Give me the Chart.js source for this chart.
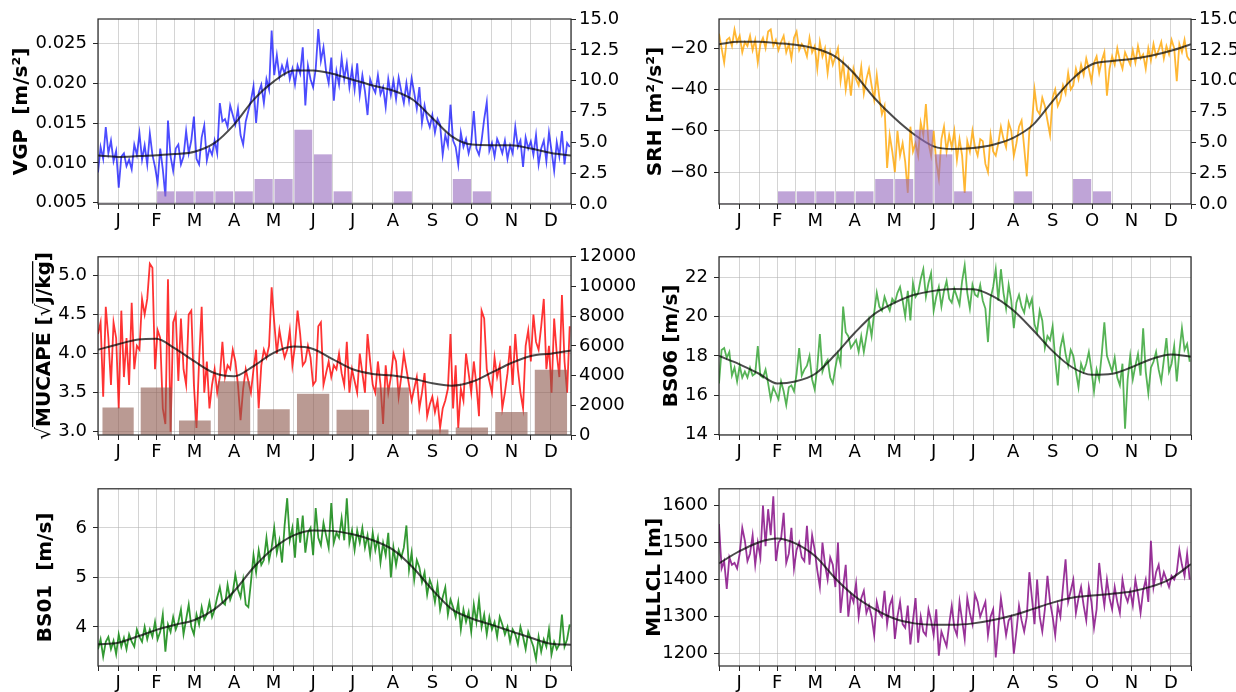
<!DOCTYPE html>
<html>
<head>
<meta charset="utf-8">
<script src="https://cdn.jsdelivr.net/npm/chart.js@4.4.1/dist/chart.umd.min.js"></script>
<style>
  html, body { margin: 0; padding: 0; background: #fff; }
  body { width: 1236px; height: 692px; position: relative; overflow: hidden; }
  canvas { position: absolute; }
</style>
</head>
<body>
<canvas id="vgp"></canvas>
<canvas id="srh"></canvas>
<canvas id="cape"></canvas>
<canvas id="bs06"></canvas>
<canvas id="bs01"></canvas>
<canvas id="lcl"></canvas>
<script>
// ---- x axis: day of year ----
const monthStarts = [0, 31, 59, 90, 120, 151, 181, 212, 243, 273, 304, 334, 365];
const monthLabels = ['J', 'F', 'M', 'A', 'M', 'J', 'J', 'A', 'S', 'O', 'N', 'D'];
const monthMids = monthLabels.map((_, i) => (monthStarts[i] + monthStarts[i + 1]) / 2);
const halfMonthEdges = [0, 15.5, 31, 45, 59, 74.5, 90, 105, 120, 135.5, 151, 166, 181,
  196.5, 212, 227.5, 243, 258, 273, 288.5, 304, 319, 334, 349.5, 365];
const halfMonthCenters = halfMonthEdges.slice(0, -1).map((e, i) => (e + halfMonthEdges[i + 1]) / 2);

const smoothDays = halfMonthEdges;

// ---- daily series (read every second day) ----
const vgpDaily = [
  0.0088,0.0120,0.0105,0.0145,0.0112,0.0128,0.0102,0.0115,0.0069,0.0108,
  0.0112,0.0096,0.0104,0.0092,0.0123,0.0110,0.0137,0.0104,0.0122,0.0098,
  0.0137,0.0110,0.0095,0.0075,0.0118,0.0092,0.0058,0.0153,0.0108,0.0090,
  0.0118,0.0123,0.0098,0.0108,0.0140,0.0112,0.0128,0.0158,0.0105,0.0098,
  0.0132,0.0147,0.0103,0.0118,0.0110,0.0128,0.0112,0.0175,0.0152,0.0155,
  0.0145,0.0172,0.0160,0.0148,0.0168,0.0135,0.0123,0.0152,0.0165,0.0178,
  0.0196,0.0150,0.0188,0.0198,0.0175,0.0205,0.0192,0.0266,0.0210,0.0235,
  0.0208,0.0222,0.0212,0.0227,0.0205,0.0218,0.0198,0.0222,0.0212,0.0245,
  0.0172,0.0222,0.0205,0.0195,0.0218,0.0268,0.0228,0.0245,0.0215,0.0200,
  0.0232,0.0178,0.0215,0.0198,0.0232,0.0205,0.0225,0.0195,0.0218,0.0192,
  0.0225,0.0185,0.0210,0.0190,0.0160,0.0205,0.0195,0.0188,0.0210,0.0186,
  0.0195,0.0170,0.0205,0.0185,0.0203,0.0180,0.0207,0.0190,0.0175,0.0200,
  0.0178,0.0206,0.0188,0.0168,0.0195,0.0150,0.0172,0.0155,0.0145,0.0160,
  0.0138,0.0155,0.0148,0.0110,0.0135,0.0122,0.0173,0.0128,0.0120,0.0098,
  0.0138,0.0120,0.0130,0.0112,0.0125,0.0165,0.0118,0.0110,0.0128,0.0155,
  0.0176,0.0115,0.0125,0.0108,0.0130,0.0122,0.0112,0.0128,0.0105,0.0122,
  0.0112,0.0145,0.0120,0.0128,0.0095,0.0132,0.0118,0.0127,0.0110,0.0135,
  0.0098,0.0118,0.0128,0.0102,0.0138,0.0115,0.0090,0.0126,0.0108,0.0140,
  0.0098,0.0125,0.0120];
const vgpSmooth = [0.01092,0.01075,0.01085,0.01095,0.01110,0.01140,0.01250,0.01480,0.01790,
  0.02020,0.02158,0.02160,0.02117,0.02042,0.01971,0.01908,0.01792,0.01563,0.01333,
  0.01229,0.01221,0.01221,0.01179,0.01125,0.01092];
const vgpCounts = [0,0,0,1,1,1,1,1,2,2,6,4,1,0,0,1,0,0,2,1,0,0,0,0];

const srhDaily = [
  -13,-20,-27,-16,-15,-19,-11,-17,-14,-22,
  -17,-19,-14,-21,-16,-27,-18,-15,-20,-12,
  -11,-19,-16,-21,-17,-14,-22,-18,-25,-15,
  -12,-21,-18,-20,-24,-15,-22,-19,-30,-17,
  -24,-20,-32,-22,-28,-24,-20,-36,-27,-40,
  -31,-43,-30,-35,-38,-29,-42,-35,-30,-38,
  -45,-33,-44,-52,-48,-78,-62,-70,-80,-60,
  -72,-66,-75,-90,-58,-70,-66,-72,-56,-62,
  -47,-66,-72,-60,-75,-83,-64,-58,-70,-62,
  -68,-60,-74,-64,-72,-90,-65,-70,-60,-68,
  -72,-64,-65,-76,-80,-62,-70,-72,-66,-58,
  -64,-68,-56,-60,-72,-66,-58,-55,-68,-82,
  -60,-56,-40,-50,-52,-44,-48,-55,-62,-44,
  -40,-48,-45,-38,-42,-32,-40,-38,-30,-35,
  -28,-33,-25,-30,-36,-27,-24,-32,-26,-22,
  -43,-30,-24,-28,-20,-26,-30,-22,-25,-28,
  -21,-27,-19,-25,-23,-30,-20,-26,-18,-24,
  -21,-17,-25,-19,-23,-16,-20,-36,-18,-22,
  -16,-24,-26];
const srhSmooth = [-18.1,-16.9,-16.9,-17.6,-18.4,-20.2,-24.1,-32.6,-44.0,-53.7,-61.8,-67.5,
  -68.8,-68.3,-66.7,-63.4,-57.0,-45.6,-35.1,-27.8,-26.2,-25.3,-23.7,-21.3,-18.1];
const srhCounts = [0,0,0,1,1,1,1,1,2,2,6,4,1,0,0,1,0,0,2,1,0,0,0,0];

const capeDaily = [
  4.25,4.40,3.45,4.60,4.20,3.60,4.40,4.20,3.30,4.55,
  3.70,4.20,3.60,4.65,3.80,4.10,4.05,4.70,4.50,4.70,
  5.15,5.10,3.80,4.30,4.20,3.30,3.10,4.95,3.00,4.40,
  4.50,3.65,4.45,3.80,3.60,4.50,4.55,3.60,3.05,3.90,
  4.60,3.50,3.90,3.30,3.60,3.80,3.50,3.70,4.15,3.70,
  3.85,3.80,4.05,3.90,3.60,3.15,3.55,3.80,3.65,3.50,
  3.80,4.05,3.30,3.85,4.05,3.95,4.10,4.85,4.40,4.00,
  4.30,4.10,3.95,4.05,4.30,3.85,4.10,4.55,4.25,3.85,
  3.90,4.10,3.95,3.60,3.65,4.35,4.40,3.60,3.75,3.90,
  3.70,3.85,3.80,4.00,3.75,3.60,4.15,3.50,3.80,3.65,
  3.50,4.00,3.75,3.50,4.25,3.90,3.60,3.50,3.90,3.60,
  3.10,3.85,3.50,3.70,4.00,3.90,3.45,3.70,4.00,3.80,
  3.60,3.40,3.55,3.70,3.30,3.50,3.75,3.20,3.35,3.45,
  3.25,3.40,3.05,3.30,3.40,3.55,4.25,3.30,3.85,3.05,
  3.55,3.40,4.00,3.75,3.50,3.90,3.60,3.20,4.55,4.45,
  3.80,3.65,3.50,3.95,3.70,3.85,3.30,3.50,3.75,4.10,
  3.60,4.25,3.80,3.50,3.30,4.10,4.30,3.90,4.50,4.15,
  4.05,4.35,4.70,3.80,4.10,3.50,4.45,4.00,3.70,4.75,
  3.90,3.50,4.35];
const capeSmooth = [4.05,4.12,4.18,4.19,4.07,3.90,3.75,3.71,3.84,4.01,4.09,4.06,3.93,
  3.80,3.74,3.72,3.68,3.62,3.59,3.64,3.76,3.88,3.97,4.00,4.04];
const capeMonthly = [1830, 3170, 950, 3600, 1720, 2760, 1670, 3170, 350, 480, 1520, 4370];

const bs06Daily = [
  16.6,18.3,18.4,17.9,18.2,17.0,17.4,16.7,17.5,16.9,
  17.2,16.9,17.4,17.0,17.1,18.5,17.0,16.9,17.3,16.6,
  15.8,16.4,16.1,15.8,16.7,16.2,15.5,16.4,16.5,16.2,
  17.1,18.4,17.0,17.3,17.5,18.0,16.8,16.3,17.4,19.1,
  17.2,17.6,17.8,16.9,16.6,17.4,18.1,17.6,20.5,19.2,
  19.0,18.4,18.6,18.8,18.2,19.0,18.2,19.0,19.8,19.0,
  20.2,21.2,20.5,20.3,21.0,20.6,20.3,20.9,20.7,21.2,
  21.5,20.8,20.0,21.3,19.8,21.7,21.0,21.2,21.9,22.4,
  21.0,21.7,22.2,20.3,21.0,21.5,20.5,21.3,21.8,20.9,
  20.7,21.4,21.0,20.6,21.8,22.6,21.2,20.4,21.6,21.1,
  21.0,21.6,20.8,20.4,18.7,20.9,21.5,22.4,20.8,22.4,
  21.2,20.4,21.6,20.8,19.4,20.7,21.1,20.5,20.2,21.0,
  20.5,20.9,19.6,19.2,20.3,19.8,18.4,19.0,18.8,19.5,
  17.8,16.5,18.4,19.0,18.1,17.5,18.3,18.0,17.2,16.4,
  17.6,17.2,17.6,18.2,17.3,16.2,17.3,16.8,18.1,19.7,
  18.0,17.6,17.2,17.9,16.9,16.5,17.6,14.3,16.8,18.0,
  16.8,17.5,18.1,17.0,19.4,17.2,16.1,17.4,17.7,18.2,
  17.3,16.7,17.8,18.9,17.2,17.6,18.5,16.7,18.2,19.4,
  18.3,18.6,17.7];
const bs06Smooth = [17.99,17.58,17.09,16.60,16.70,17.09,18.07,19.17,20.12,20.69,21.10,21.30,
  21.39,21.38,21.02,20.31,19.30,18.24,17.42,17.04,17.09,17.42,17.83,18.07,17.96];

const bs01Daily = [
  3.55,3.75,3.40,3.70,3.80,3.55,3.72,3.45,3.85,3.60,
  3.78,3.55,3.85,3.70,3.60,3.95,3.80,3.70,4.00,3.75,
  3.95,3.80,4.10,3.75,3.90,4.25,3.50,4.05,3.90,4.20,
  3.95,4.10,4.35,3.85,4.15,4.45,4.00,3.85,4.25,4.05,
  4.40,4.15,4.25,4.50,4.20,4.35,4.60,4.80,4.50,4.45,
  4.85,4.55,4.70,5.05,4.75,4.60,4.95,4.45,4.40,4.90,
  5.45,5.10,5.55,5.25,5.35,5.80,5.35,5.60,6.00,5.50,
  5.75,5.30,6.05,6.60,5.75,6.00,5.40,6.20,5.70,6.25,
  5.50,5.90,6.00,5.45,6.40,5.80,5.65,6.10,5.85,5.60,
  6.50,5.70,5.90,5.80,6.20,5.75,6.60,5.70,5.95,5.55,
  5.95,5.70,6.00,5.60,5.85,5.45,5.90,5.55,5.80,5.30,
  5.70,5.45,5.90,5.00,5.60,5.25,5.55,5.40,5.60,6.05,
  5.15,5.50,4.95,5.35,5.20,4.90,5.10,4.65,4.95,4.80,
  4.50,4.85,4.35,4.60,4.80,4.25,4.55,4.40,4.20,4.50,
  3.95,4.35,4.10,4.30,3.90,4.45,4.10,4.55,4.00,4.25,
  3.85,4.20,3.95,4.10,3.80,4.20,4.05,3.85,4.00,3.70,
  3.95,3.85,3.65,4.00,3.80,3.55,3.90,3.75,3.60,3.35,
  3.80,3.50,3.75,3.60,3.95,3.45,3.70,3.55,3.65,4.25,
  3.60,3.75,4.05];
const bs01Smooth = [3.65,3.68,3.81,3.94,4.04,4.14,4.36,4.72,5.20,5.59,5.85,5.95,5.94,5.87,
  5.75,5.56,5.20,4.75,4.36,4.17,4.04,3.91,3.78,3.66,3.64];

const lclDaily = [
  1550,1430,1450,1375,1460,1440,1445,1430,1470,1540,
  1505,1450,1470,1520,1440,1500,1460,1600,1490,1590,
  1520,1625,1450,1500,1510,1580,1445,1470,1540,1430,
  1480,1500,1460,1450,1545,1440,1520,1480,1425,1380,
  1500,1440,1400,1460,1440,1380,1500,1310,1380,1440,
  1300,1360,1340,1390,1300,1350,1370,1310,1330,1300,
  1250,1340,1310,1300,1370,1280,1330,1350,1240,1300,
  1340,1280,1270,1330,1225,1290,1350,1230,1300,1260,
  1250,1320,1290,1250,1320,1195,1260,1240,1220,1280,
  1330,1270,1250,1340,1290,1240,1350,1310,1280,1360,
  1340,1300,1320,1340,1250,1300,1320,1190,1270,1350,
  1300,1250,1290,1300,1200,1260,1330,1290,1260,1300,
  1420,1350,1280,1400,1300,1260,1320,1410,1340,1300,
  1250,1330,1300,1380,1455,1340,1370,1400,1310,1350,
  1380,1330,1290,1380,1340,1270,1320,1445,1380,1330,
  1400,1350,1320,1380,1340,1310,1400,1360,1340,1370,
  1330,1400,1360,1310,1370,1400,1340,1505,1380,1420,
  1440,1390,1420,1400,1380,1410,1400,1420,1480,1440,
  1410,1470,1400];
const lclSmooth = [1444,1476,1501,1511,1498,1463,1403,1355,1321,1295,1282,1278,1278,1282,
  1291,1304,1321,1338,1351,1357,1362,1368,1381,1403,1442];

const sampleDays = vgpDaily.map((_, i) => i * 2);

// ---- styling ----
const FONT = "'DejaVu Sans', sans-serif";
const GRID = 'rgba(176,176,176,0.55)';
const SPINE = '#262626';
const xTickDays = [...monthStarts, ...monthMids].sort((a, b) => a - b);
const xLabelAt = new Map(monthMids.map((d, i) => [d, monthLabels[i]]));

const frame = {
  id: 'frame',
  afterDatasetsDraw(chart) {
    const { ctx, chartArea: a } = chart;
    ctx.save();
    ctx.strokeStyle = SPINE;
    ctx.lineWidth = 1.2;
    ctx.strokeRect(a.left, a.top, a.right - a.left, a.bottom - a.top);
    ctx.restore();
  }
};

// rotated label with radical overbars, for the sqrt(MUCAPE) panel
const sqrtTitle = {
  id: 'sqrtTitle',
  afterDraw(chart, args, opts) {
    if (!opts.parts) return;
    const ctx = chart.ctx, ys = chart.scales.y;
    ctx.save();
    ctx.translate(opts.x, (ys.top + ys.bottom) / 2);
    ctx.rotate(-Math.PI / 2);
    ctx.fillStyle = '#000';
    ctx.textBaseline = 'alphabetic';
    let total = 0;
    const widths = opts.parts.map(p => {
      ctx.font = p.font;
      const w = ctx.measureText(p.text).width;
      total += w;
      return w;
    });
    let x = -total / 2;
    opts.parts.forEach((p, i) => {
      ctx.font = p.font;
      ctx.fillText(p.text, x, opts.baseline);
      if (p.bar) ctx.fillRect(x, opts.baseline - opts.barRise, widths[i], 1.3);
      x += widths[i];
    });
    ctx.restore();
  }
};

function panel(id, box, spec) {
  const cv = document.getElementById(id);
  cv.width = box.w;
  cv.height = box.h;
  cv.style.left = box.x + 'px';
  cv.style.top = box.y + 'px';
  const L = box.areaL - box.x, R = box.x + box.w - box.areaR;
  const T = box.areaT - box.y, B = box.y + box.h - box.areaB;

  const datasets = [
    {
      type: 'line', yAxisID: 'y', order: 2,
      data: spec.daily.map((v, i) => ({ x: sampleDays[i], y: v })),
      borderColor: spec.color, borderWidth: 1.8, pointRadius: 0, tension: 0
    },
    {
      type: 'line', yAxisID: 'y', order: 1,
      data: spec.smooth.map((v, i) => ({ x: smoothDays[i], y: v })),
      borderColor: 'rgba(0,0,0,0.7)', borderWidth: 2, pointRadius: 0,
      cubicInterpolationMode: 'monotone'
    }
  ];
  if (spec.bars) {
    datasets.push({
      type: 'bar', yAxisID: 'y2', order: 0,
      data: spec.bars.map((v, i) => ({ x: spec.barX[i], y: v })),
      backgroundColor: spec.barColor, borderWidth: 0,
      barThickness: 'flex', categoryPercentage: 1, barPercentage: spec.barPct
    });
  }

  const tickFont = { family: FONT, size: 18 };
  const scales = {
    x: {
      type: 'linear', min: 0, max: 365, offset: false,
      grid: { color: GRID, tickColor: SPINE, tickLength: 5, offset: false },
      border: { display: false },
      ticks: { autoSkip: false, maxRotation: 0, padding: 2, color: '#000', font: tickFont,
        callback: v => xLabelAt.get(v) || '' },
      afterBuildTicks: s => { s.ticks = xTickDays.map(v => ({ value: v })); },
      afterFit: s => { s.height = B; }
    },
    y: {
      type: 'linear', position: 'left', min: spec.yMin, max: spec.yMax,
      grid: { color: GRID, tickColor: SPINE, tickLength: 5 },
      border: { display: false },
      ticks: { padding: 6, color: '#000', font: tickFont, callback: spec.yFmt },
      afterBuildTicks: s => { s.ticks = spec.yTicks.map(v => ({ value: v })); },
      afterFit: s => { s.width = L; },
      title: spec.title
        ? { display: true, text: spec.title, color: '#000',
            font: { family: FONT, size: 20, weight: 'bold', lineHeight: 1 },
            padding: { top: spec.titlePad, bottom: 0 } }
        : { display: false }
    }
  };
  if (spec.bars) {
    scales.y2 = {
      type: 'linear', position: 'right', min: 0, max: spec.y2Max,
      grid: { display: true, drawOnChartArea: false, tickColor: SPINE, tickLength: 5 },
      border: { display: false },
      ticks: { padding: 3, color: '#000', font: tickFont, callback: spec.y2Fmt },
      afterBuildTicks: s => { s.ticks = spec.y2Ticks.map(v => ({ value: v })); },
      afterFit: s => { s.width = R; }
    };
  }

  new Chart(cv, {
    type: 'line',
    data: { datasets },
    options: {
      responsive: false, animation: false, devicePixelRatio: 1,
      layout: { padding: { top: T, left: 0, right: spec.bars ? 0 : R, bottom: 0 } },
      plugins: { legend: { display: false }, tooltip: { enabled: false },
        sqrtTitle: spec.sqrtTitle || {} },
      scales
    },
    plugins: [frame, sqrtTitle]
  });
}

const minus = s => s.replace('-', '\u2212');
const LEFT = { x: 0, w: 640, areaL: 98, areaR: 571 };
const RIGHT = { x: 640, w: 596, areaL: 719, areaR: 1191 };
const ROW1 = { y: 0, h: 240, areaT: 19, areaB: 204 };
const ROW2 = { y: 240, h: 232, areaT: 251, areaB: 435 };
const ROW3 = { y: 472, h: 220, areaT: 482, areaB: 666 };

panel('vgp', { ...LEFT, ...ROW1 }, {
  daily: vgpDaily, smooth: vgpSmooth, color: 'rgba(0,0,255,0.7)',
  yMin: 0.00484, yMax: 0.02805, yTicks: [0.005, 0.010, 0.015, 0.020, 0.025],
  yFmt: v => v.toFixed(3), title: 'VGP  [m/s\u00b2]', titlePad: 12,
  bars: vgpCounts, barX: halfMonthCenters, barColor: 'rgba(148,103,189,0.6)', barPct: 0.88,
  y2Max: 15, y2Ticks: [0, 2.5, 5, 7.5, 10, 12.5, 15], y2Fmt: v => v.toFixed(1)
});

panel('srh', { ...RIGHT, ...ROW1 }, {
  daily: srhDaily, smooth: srhSmooth, color: 'rgba(255,165,0,0.8)',
  yMin: -95.4, yMax: -5.9, yTicks: [-80, -60, -40, -20],
  yFmt: v => minus(String(v)), title: 'SRH [m\u00b2/s\u00b2]', titlePad: 6,
  bars: srhCounts, barX: halfMonthCenters, barColor: 'rgba(148,103,189,0.6)', barPct: 0.88,
  y2Max: 15, y2Ticks: [0, 2.5, 5, 7.5, 10, 12.5, 15], y2Fmt: v => v.toFixed(1)
});

panel('cape', { ...LEFT, ...ROW2 }, {
  daily: capeDaily, smooth: capeSmooth, color: 'rgba(255,0,0,0.8)',
  yMin: 2.959, yMax: 5.239, yTicks: [3.0, 3.5, 4.0, 4.5, 5.0],
  yFmt: v => v.toFixed(1),
  sqrtTitle: {
    x: 43, baseline: 7, barRise: 18,
    parts: [
      { text: '\u221a', font: `20px ${FONT}` },
      { text: 'MUCAPE', font: `bold 20px ${FONT}`, bar: true },
      { text: ' [', font: `bold 20px ${FONT}` },
      { text: '\u221a', font: `20px ${FONT}` },
      { text: 'J/kg', font: `bold 20px ${FONT}`, bar: true },
      { text: ']', font: `bold 20px ${FONT}` }
    ]
  },
  bars: capeMonthly, barX: monthMids, barColor: 'rgba(140,86,75,0.6)', barPct: 0.8,
  y2Max: 12000, y2Ticks: [0, 2000, 4000, 6000, 8000, 10000, 12000], y2Fmt: v => String(v)
});

panel('bs06', { ...RIGHT, ...ROW2 }, {
  daily: bs06Daily, smooth: bs06Smooth, color: 'rgba(44,160,44,0.8)',
  yMin: 13.98, yMax: 23.03, yTicks: [14, 16, 18, 20, 22],
  yFmt: v => String(v), title: 'BS06 [m/s]', titlePad: 22
});

panel('bs01', { ...LEFT, ...ROW3 }, {
  daily: bs01Daily, smooth: bs01Smooth, color: 'rgba(0,128,0,0.8)',
  yMin: 3.21, yMax: 6.79, yTicks: [4, 5, 6],
  yFmt: v => String(v), title: 'BS01  [m/s]', titlePad: 36
});

panel('lcl', { ...RIGHT, ...ROW3 }, {
  daily: lclDaily, smooth: lclSmooth, color: 'rgba(128,0,128,0.8)',
  yMin: 1167, yMax: 1645, yTicks: [1200, 1300, 1400, 1500, 1600],
  yFmt: v => String(v), title: 'MLLCL [m]', titlePad: 5
});
</script>
</body>
</html>
